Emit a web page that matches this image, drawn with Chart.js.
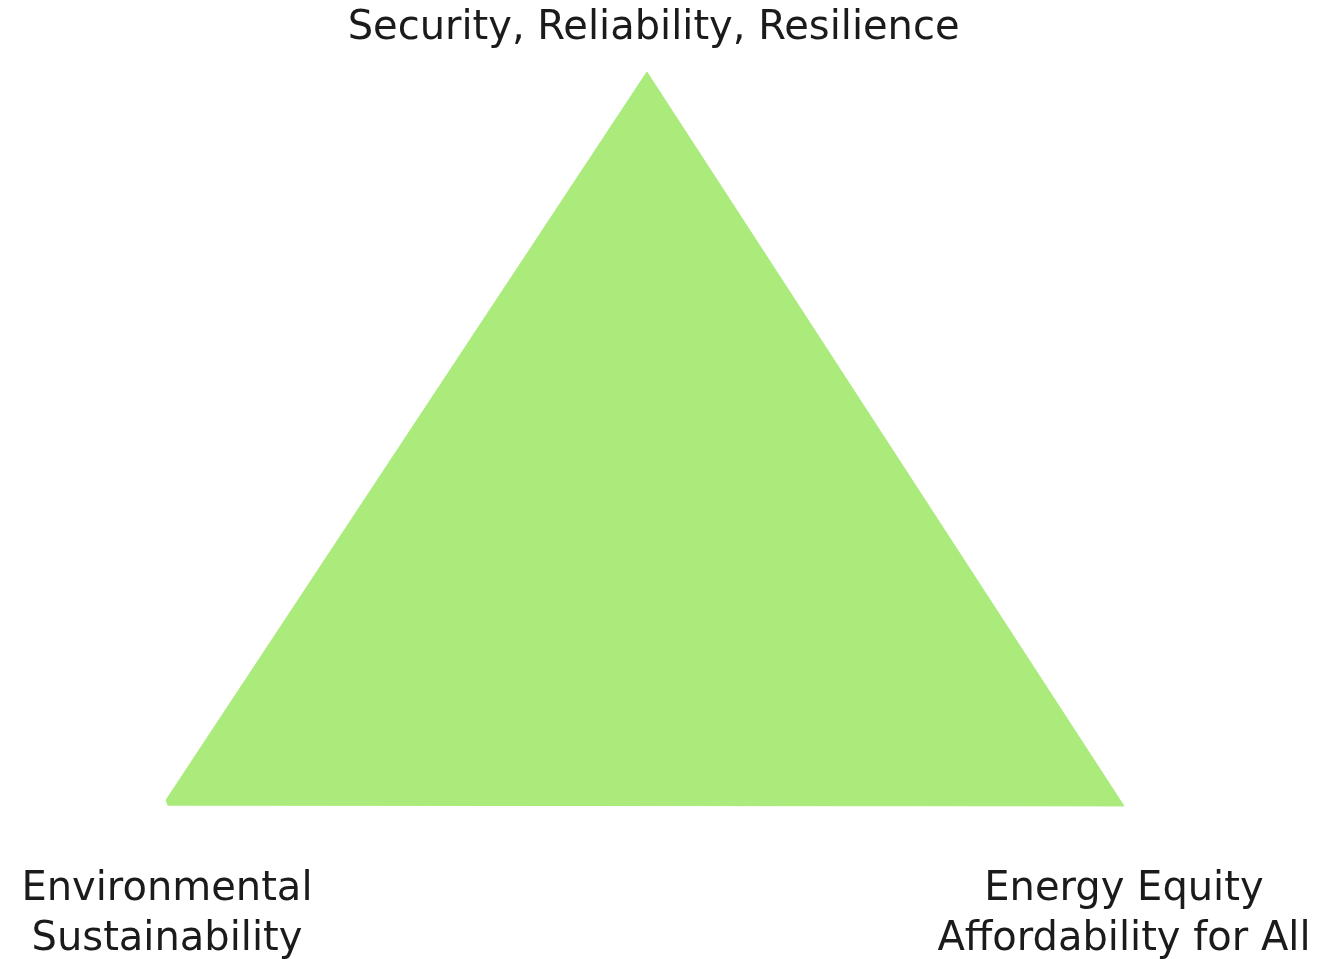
<!DOCTYPE html>
<html>
<head>
<meta charset="utf-8">
<title>Energy Trilemma</title>
<script src="https://cdn.jsdelivr.net/npm/chart.js@4.4.1/dist/chart.umd.min.js"></script>
<style>
  html, body { margin: 0; padding: 0; background: #ffffff; }
  #wrap { width: 1326px; height: 959px; position: relative; }
</style>
</head>
<body>
<div id="wrap"><canvas id="trilemma"></canvas></div>
<script>
// corners of the trilemma triangle (unit space: base runs 0..1, apex at y=1)
const cornerX = [0, 0.502, 1, 0.002, 0];
const cornerY = [0.004, 1, -0.004, -0.003, 0.004];

// corner labels, in order: apex, bottom-left, bottom-right
const cornerLabels = [
  ['Security, Reliability, Resilience'],
  ['Environmental', 'Sustainability'],
  ['Energy Equity', 'Affordability for All']
];
const labelX = [0.509, 0.001, 1.0];
const labelY = [1, 0, 0];

const FILL = '#aaeb7c';
const TEXT = '#1b1b1b';
const FONT = '40px "DejaVu Sans", sans-serif';

const labelPlugin = {
  id: 'cornerLabels',
  afterDraw(chart){
    const ctx = chart.ctx;
    const xs = chart.scales.x, ys = chart.scales.y;
    ctx.save();
    ctx.fillStyle = TEXT;
    ctx.font = FONT;
    ctx.textAlign = 'center';
    ctx.textBaseline = 'alphabetic';
    cornerLabels.forEach((lines, i) => {
      const px = xs.getPixelForValue(labelX[i]);
      const py = ys.getPixelForValue(labelY[i]);
      lines.forEach((line, j) => {
        // apex label sits above the point, base labels hang below
        const y = i === 0 ? py - 33 : py + 97 + j * 50;
        ctx.fillText(line, px, y);
      });
    });
    ctx.restore();
  }
};

const points = cornerX.map((x, i) => ({ x: x, y: cornerY[i] }));

new Chart(document.getElementById('trilemma'), {
  type: 'scatter',
  data: {
    datasets: [{
      data: points,
      showLine: true,
      fill: 'shape',
      backgroundColor: FILL,
      borderColor: FILL,
      borderWidth: 1,
      pointRadius: 0,
      tension: 0
    }]
  },
  options: {
    responsive: true,
    maintainAspectRatio: false,
    animation: false,
    layout: { padding: 0 },
    plugins: { legend: { display: false }, tooltip: { enabled: false } },
    scales: {
      x: { type: 'linear', display: false, min: -0.1733, max: 1.2109 },
      y: { type: 'linear', display: false, min: -0.2134, max: 1.0985 }
    }
  },
  plugins: [labelPlugin]
});
</script>
</body>
</html>
